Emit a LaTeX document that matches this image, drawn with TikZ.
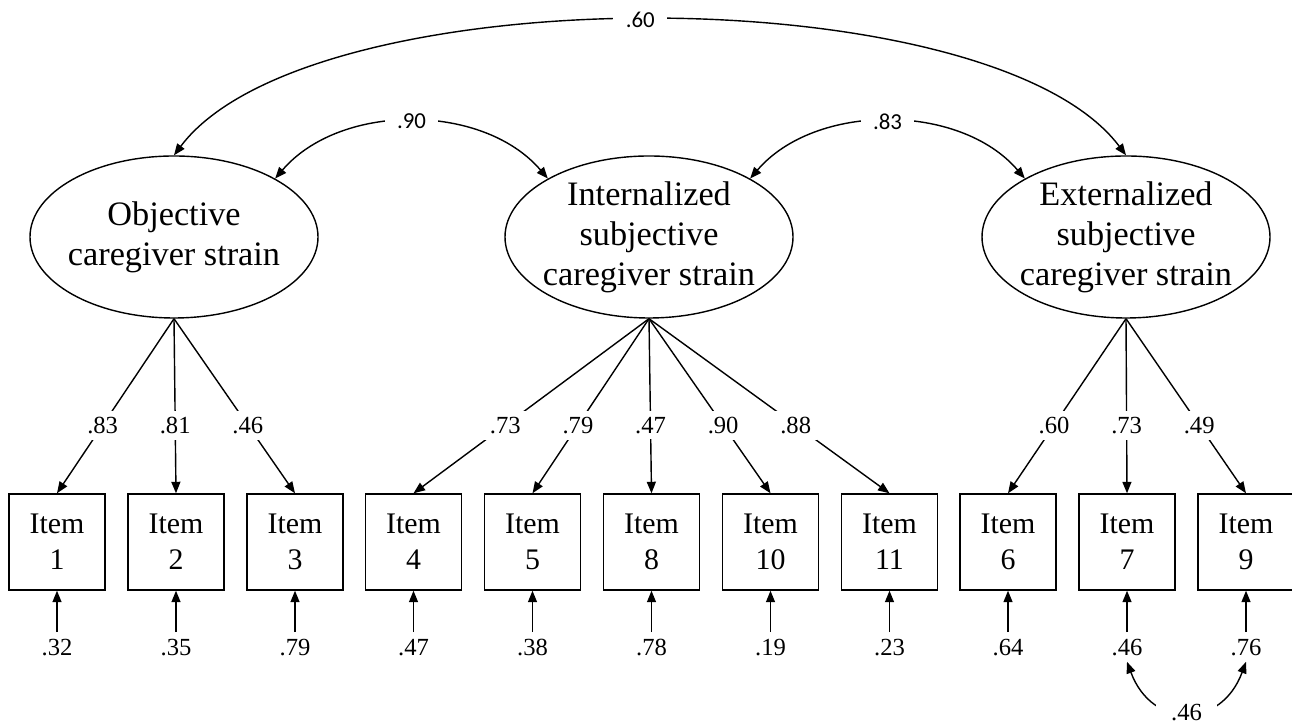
\documentclass[tikz,border=0pt]{standalone}
\usepackage{fontspec}
\setmainfont{Liberation Serif}
\newfontfamily\corrfont{Carlito}
\usepackage{tikz}
\usetikzlibrary{shapes.geometric,arrows.meta}

\begin{document}
\begin{tikzpicture}[line width=0.8pt, >={Triangle[length=0.23cm, width=0.18cm]},
    latent/.style={draw, ellipse, minimum width=5.76cm, minimum height=3.24cm, inner sep=-0.5cm, align=center, font=\fontsize{19.5}{22.8}\selectfont},
    item/.style={draw, minimum size=1.92cm, inner sep=0pt, align=center, font=\fontsize{17}{20.5}\selectfont},
    coef/.style={fill=white, inner sep=0.12cm, font=\fontsize{14}{16}\selectfont},
    resid/.style={text height=0.33cm, text depth=0pt, font=\fontsize{14}{16}\selectfont},
    corr/.style={fill=white, inner xsep=0.25cm, inner ysep=0.05cm, font=\corrfont\fontsize{13}{15}\selectfont}]
    \useasboundingbox (0,0) rectangle (25.84,14.5);

    % factors
    \node[latent] (obj) at (3.48, 9.76) {Objective\\caregiver strain};
    \node[latent] (intl) at (12.98, 9.76) {Internalized\\subjective\\caregiver strain};
    \node[latent] (extl) at (22.52, 9.76) {Externalized\\subjective\\caregiver strain};

    % items
    \node[item] (item1) at (1.14, 3.66) {Item\\1};
    \node[item] (item2) at (3.52, 3.66) {Item\\2};
    \node[item] (item3) at (5.90, 3.66) {Item\\3};
    \node[item] (item4) at (8.27, 3.66) {Item\\4};
    \node[item] (item5) at (10.65, 3.66) {Item\\5};
    \node[item] (item8) at (13.03, 3.66) {Item\\8};
    \node[item] (item10) at (15.41, 3.66) {Item\\10};
    \node[item] (item11) at (17.79, 3.66) {Item\\11};
    \node[item] (item6) at (20.16, 3.66) {Item\\6};
    \node[item] (item7) at (22.54, 3.66) {Item\\7};
    \node[item] (item9) at (24.92, 3.66) {Item\\9};

    % residuals
    \node[resid] (e1) at (1.14, 1.56) {.32};
    \node[resid] (e2) at (3.52, 1.56) {.35};
    \node[resid] (e3) at (5.90, 1.56) {.79};
    \node[resid] (e4) at (8.27, 1.56) {.47};
    \node[resid] (e5) at (10.65, 1.56) {.38};
    \node[resid] (e8) at (13.03, 1.56) {.78};
    \node[resid] (e10) at (15.41, 1.56) {.19};
    \node[resid] (e11) at (17.79, 1.56) {.23};
    \node[resid] (e6) at (20.16, 1.56) {.64};
    \node[resid] (e7) at (22.54, 1.56) {.46};
    \node[resid] (e9) at (24.92, 1.56) {.76};

    % loadings
    \draw[->] (obj.south) -- (item1.north) node[coef, pos=0.61] {.83};
    \draw[->] (obj.south) -- (item2.north) node[coef, pos=0.61] {.81};
    \draw[->] (obj.south) -- (item3.north) node[coef, pos=0.61] {.46};
    \draw[->] (intl.south) -- (item4.north) node[coef, pos=0.61] {.73};
    \draw[->] (intl.south) -- (item5.north) node[coef, pos=0.61] {.79};
    \draw[->] (intl.south) -- (item8.north) node[coef, pos=0.61] {.47};
    \draw[->] (intl.south) -- (item10.north) node[coef, pos=0.61] {.90};
    \draw[->] (intl.south) -- (item11.north) node[coef, pos=0.61] {.88};
    \draw[->] (extl.south) -- (item6.north) node[coef, pos=0.61] {.60};
    \draw[->] (extl.south) -- (item7.north) node[coef, pos=0.61] {.73};
    \draw[->] (extl.south) -- (item9.north) node[coef, pos=0.61] {.49};

    \draw[->] (e1) -- (item1.south);
    \draw[->] (e2) -- (item2.south);
    \draw[->] (e3) -- (item3.south);
    \draw[->] (e4) -- (item4.south);
    \draw[->] (e5) -- (item5.south);
    \draw[->] (e8) -- (item8.south);
    \draw[->] (e10) -- (item10.south);
    \draw[->] (e11) -- (item11.south);
    \draw[->] (e6) -- (item6.south);
    \draw[->] (e7) -- (item7.south);
    \draw[->] (e9) -- (item9.south);

    % correlations
    \draw[<->] (obj.north) .. controls +(2.7,3.6) and +(-2.7,3.6) .. (extl.north) node[corr, pos=0.492] {.60};
    \draw[<->] (obj.30) .. controls +(1.3,1.52) and +(-1.3,1.52) .. (intl.150) node[corr, pos=0.5] {.90};
    \draw[<->] (intl.30) .. controls +(1.3,1.52) and +(-1.3,1.52) .. (extl.150) node[corr, pos=0.5] {.83};
    \draw[<->] (e7.south) .. controls +(0.5,-1.35) and +(-0.5,-1.35) .. (e9.south) node[coef, pos=0.5, inner xsep=0.3cm, inner ysep=0.02cm] {.46};
\end{tikzpicture}
\end{document}
